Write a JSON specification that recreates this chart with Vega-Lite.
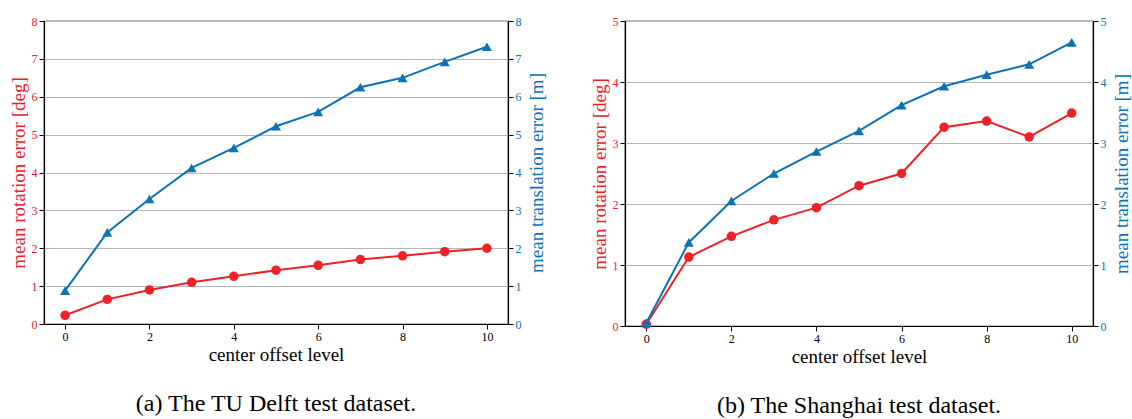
{
  "$schema": "https://vega.github.io/schema/vega-lite/v6.json",
  "background": "white",
  "padding": {"left": 8, "right": 0, "top": 14, "bottom": 0},
  "config": {
    "font": "Liberation Serif",
    "view": {"stroke": "black", "strokeWidth": 1.2},
    "axis": {"labelFont": "Liberation Serif", "titleFont": "Liberation Serif", "titleFontWeight": "normal", "labelFontSize": 12, "titleFontSize": 19, "domainColor": "black", "tickColor": "black", "tickSize": 5, "domainWidth": 1.2},
    "title": {"font": "Liberation Serif", "fontSize": 24, "fontWeight": "normal", "color": "black", "orient": "bottom", "anchor": "middle", "offset": 28}
  },
  "datasets": {
    "a": [
      {"level": 0, "rot": 0.23, "trans": 0.88},
      {"level": 1, "rot": 0.65, "trans": 2.42},
      {"level": 2, "rot": 0.9, "trans": 3.3},
      {"level": 3, "rot": 1.1, "trans": 4.12},
      {"level": 4, "rot": 1.26, "trans": 4.65},
      {"level": 5, "rot": 1.42, "trans": 5.22},
      {"level": 6, "rot": 1.55, "trans": 5.6},
      {"level": 7, "rot": 1.7, "trans": 6.25},
      {"level": 8, "rot": 1.8, "trans": 6.5},
      {"level": 9, "rot": 1.91, "trans": 6.92},
      {"level": 10, "rot": 2.0, "trans": 7.32}
    ],
    "b": [
      {"level": 0, "rot": 0.03, "trans": 0.05},
      {"level": 1, "rot": 1.13, "trans": 1.37},
      {"level": 2, "rot": 1.47, "trans": 2.05},
      {"level": 3, "rot": 1.74, "trans": 2.5},
      {"level": 4, "rot": 1.94, "trans": 2.86},
      {"level": 5, "rot": 2.3, "trans": 3.2},
      {"level": 6, "rot": 2.5, "trans": 3.62},
      {"level": 7, "rot": 3.26, "trans": 3.93},
      {"level": 8, "rot": 3.36, "trans": 4.12},
      {"level": 9, "rot": 3.1, "trans": 4.29},
      {"level": 10, "rot": 3.49, "trans": 4.65}
    ]
  },
  "spacing": 42,
  "hconcat": [
    {
      "width": 464,
      "height": 303,
      "data": {"name": "a"},
      "title": "(a) The TU Delft test dataset.",
      "encoding": {
        "x": {"field": "level", "type": "quantitative", "scale": {"domain": [-0.5, 10.5], "nice": false, "zero": false},
              "axis": {"values": [0, 2, 4, 6, 8, 10], "grid": false, "title": "center offset level", "labelColor": "black", "titlePadding": 3}}
      },
      "layer": [
        {
          "layer": [
            {"mark": {"type": "line", "color": "#ee2129", "strokeWidth": 2}},
            {"mark": {"type": "point", "filled": true, "opacity": 1, "color": "#ee2129", "size": 90, "shape": "circle"}}
          ],
          "encoding": {
            "y": {"field": "rot", "type": "quantitative", "scale": {"domain": [0, 8], "nice": false},
                  "axis": {"orient": "left", "values": [0,1,2,3,4,5,6,7,8], "grid": true, "gridColor": "#b5b5b5", "gridWidth": 1.2, "labelColor": "#ee2129", "titleColor": "#ee2129", "title": "mean rotation error [deg]", "titlePadding": 3}}
          }
        },
        {
          "layer": [
            {"mark": {"type": "line", "color": "#0b72b5", "strokeWidth": 2}},
            {"mark": {"type": "point", "filled": true, "opacity": 1, "color": "#0b72b5", "size": 100, "shape": "triangle-up"}}
          ],
          "encoding": {
            "y": {"field": "trans", "type": "quantitative", "scale": {"domain": [0, 8], "nice": false},
                  "axis": {"orient": "right", "values": [0,1,2,3,4,5,6,7,8], "grid": false, "labelColor": "#0b72b5", "titleColor": "#0b72b5", "title": "mean translation error [m]", "titleAngle": 270, "titleBaseline": "top", "titlePadding": 6}}
          }
        }
      ],
      "resolve": {"scale": {"y": "independent"}}
    },
    {
      "width": 468,
      "height": 305,
      "data": {"name": "b"},
      "title": "(b) The Shanghai test dataset.",
      "encoding": {
        "x": {"field": "level", "type": "quantitative", "scale": {"domain": [-0.5, 10.5], "nice": false, "zero": false},
              "axis": {"values": [0, 2, 4, 6, 8, 10], "grid": false, "title": "center offset level", "labelColor": "black", "titlePadding": 3}}
      },
      "layer": [
        {
          "layer": [
            {"mark": {"type": "line", "color": "#ee2129", "strokeWidth": 2}},
            {"mark": {"type": "point", "filled": true, "opacity": 1, "color": "#ee2129", "size": 90, "shape": "circle"}}
          ],
          "encoding": {
            "y": {"field": "rot", "type": "quantitative", "scale": {"domain": [0, 5], "nice": false},
                  "axis": {"orient": "left", "values": [0,1,2,3,4,5], "grid": true, "gridColor": "#b5b5b5", "gridWidth": 1.2, "labelColor": "#ee2129", "titleColor": "#ee2129", "title": "mean rotation error [deg]", "titlePadding": 3}}
          }
        },
        {
          "layer": [
            {"mark": {"type": "line", "color": "#0b72b5", "strokeWidth": 2}},
            {"mark": {"type": "point", "filled": true, "opacity": 1, "color": "#0b72b5", "size": 100, "shape": "triangle-up"}}
          ],
          "encoding": {
            "y": {"field": "trans", "type": "quantitative", "scale": {"domain": [0, 5], "nice": false},
                  "axis": {"orient": "right", "values": [0,1,2,3,4,5], "grid": false, "labelColor": "#0b72b5", "titleColor": "#0b72b5", "title": "mean translation error [m]", "titleAngle": 270, "titleBaseline": "top", "titlePadding": 6}}
          }
        }
      ],
      "resolve": {"scale": {"y": "independent"}}
    }
  ]
}
